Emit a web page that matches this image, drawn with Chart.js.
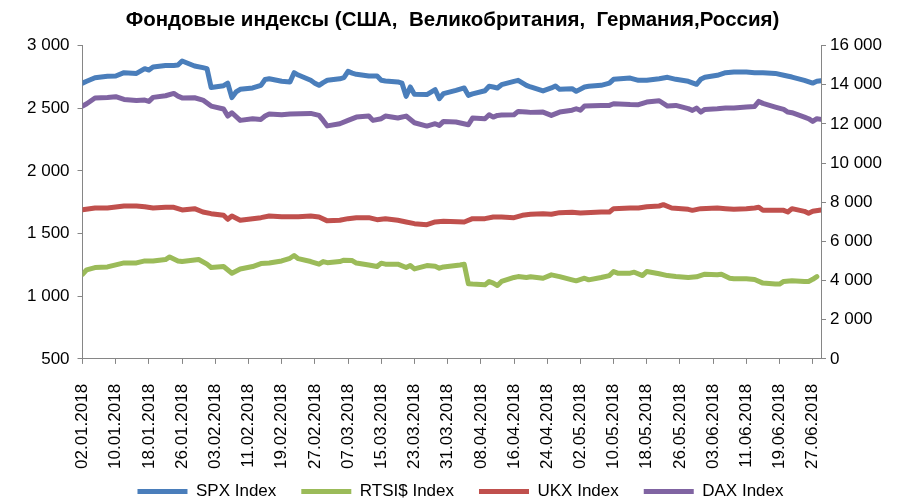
<!DOCTYPE html>
<html>
<head>
<meta charset="utf-8">
<script src="https://cdn.jsdelivr.net/npm/chart.js@4"></script>
<style>
  body { margin: 0; background: #fff; }
  #wrap { width: 901px; height: 499px; }
</style>
</head>
<body>
<div id="wrap"><canvas id="indexChart" width="901" height="499"></canvas></div>
<script>
// x = days since 02.01.2018 (trading days)
const tickLabels = ['02.01.2018', '10.01.2018', '18.01.2018', '26.01.2018', '03.02.2018', '11.02.2018',
    '19.02.2018', '27.02.2018', '07.03.2018', '15.03.2018', '23.03.2018', '31.03.2018', '08.04.2018',
    '16.04.2018', '24.04.2018', '02.05.2018', '10.05.2018', '18.05.2018', '26.05.2018', '03.06.2018',
    '11.06.2018', '19.06.2018', '27.06.2018'];

// SPX Index (left axis)
const spxDays = [0,1,3,6,8,10,13,15,16,17,20,22,23,24,27,29,30,31,34,35,36,37,38,41,43,44,45,48,50,51,
    52,55,56,57,58,59,62,63,64,65,66,69,71,72,73,76,77,78,79,80,83,85,86,87,90,92,93,94,97,98,
    99,100,101,104,105,107,108,111,113,114,115,118,119,121,122,125,127,128,132,134,136,139,141,143,146,148,149,150,153,155,
    157,160,162,164,167,169,171,174,176,177,178];
const spxValues = [2701,2715,2744,2755,2757,2784,2778,2816,2805,2830,2842,2842,2845,2877,2837,2824,2816,2665,2680,2700,
    2585,2630,2651,2662,2683,2730,2736,2715,2710,2784,2765,2723,2700,2683,2705,2723,2735,2745,2794,2780,
    2771,2757,2757,2723,2718,2710,2700,2595,2670,2611,2609,2648,2577,2617,2643,2662,2603,2615,2640,2675,
    2670,2662,2688,2715,2723,2683,2670,2638,2662,2678,2651,2656,2635,2670,2675,2683,2700,2731,2741,2723,
    2723,2736,2747,2731,2715,2691,2731,2747,2763,2784,2789,2789,2784,2784,2778,2763,2749,2723,2701,2715,2720];

// RTSI$ Index (left axis)
const rtsDays = [0,1,3,6,8,10,13,15,17,20,21,23,24,28,30,31,34,36,38,41,43,45,48,50,51,52,55,57,58,59,
    62,63,65,66,69,71,72,73,76,78,79,80,83,85,86,87,91,92,93,94,97,98,99,100,101,104,105,107,108,111,
    113,115,118,119,121,122,125,127,128,129,132,133,135,136,139,141,143,146,148,150,153,154,156,157,160,162,164,167,168,169,
    171,174,175,176,177];
const rtsValues = [1176,1211,1229,1234,1250,1266,1266,1282,1282,1293,1314,1282,1277,1293,1256,1229,1237,1184,1218,1237,
    1261,1266,1282,1303,1325,1300,1277,1256,1277,1268,1277,1288,1285,1265,1250,1237,1264,1256,1256,1229,
    1245,1218,1245,1240,1224,1234,1250,1256,1100,1097,1091,1118,1105,1086,1118,1150,1157,1150,1155,1144,
    1171,1157,1131,1123,1144,1131,1150,1165,1197,1184,1184,1192,1165,1197,1179,1165,1157,1150,1155,1176,
    1171,1176,1144,1140,1139,1134,1105,1097,1097,1118,1123,1118,1118,1135,1157];

// UKX Index (right axis)
const ukxDays = [0,3,6,8,10,13,15,17,20,22,24,27,29,31,34,35,36,38,41,43,45,48,50,52,55,57,59,62,64,66,
    69,71,73,76,78,80,83,85,87,92,94,97,99,101,104,106,108,111,113,115,118,120,125,127,128,132,134,136,139,140,
    142,146,147,149,153,155,157,160,162,163,164,167,169,170,171,174,175,176,178];
const ukxValues = [7622,7707,7707,7758,7809,7809,7775,7707,7741,7741,7605,7673,7503,7418,7333,7129,7299,7078,7163,7214,
    7299,7265,7265,7265,7299,7248,7050,7078,7163,7214,7214,7112,7163,7078,6993,6908,6857,6993,7027,6993,
    7163,7163,7248,7248,7214,7333,7384,7418,7384,7469,7490,7452,7503,7503,7673,7707,7707,7775,7809,7877,
    7707,7639,7588,7673,7707,7673,7639,7673,7707,7741,7588,7588,7588,7503,7673,7537,7435,7537,7605];

// DAX Index (right axis)
const daxDays = [0,1,3,6,8,10,13,15,16,17,20,22,23,24,27,29,31,34,35,36,38,41,43,44,45,48,50,55,57,58,
    59,62,64,66,69,70,72,73,76,78,80,83,85,86,87,90,93,94,97,98,99,100,101,104,105,107,108,111,113,115,
    118,119,120,121,125,127,128,132,134,136,139,141,143,146,147,148,149,150,153,155,157,160,162,163,164,167,169,170,171,174,
    175,176,177,178];
const daxValues = [12912,13031,13321,13355,13389,13252,13201,13219,13150,13355,13440,13559,13420,13330,13338,13219,12912,12760,12402,12572,
    12181,12266,12232,12402,12504,12470,12504,12538,12436,12181,11900,12011,12181,12351,12402,12181,12266,12402,12300,12402,
    12062,11892,12011,11926,12130,12096,11960,12300,12266,12470,12351,12436,12450,12470,12640,12606,12590,12606,12436,12606,
    12700,12776,12700,12912,12946,12946,13031,12990,12980,13116,13184,12912,12946,12780,12691,12810,12606,12742,12776,12810,
    12810,12861,12895,13150,13050,12861,12742,12606,12572,12350,12266,12130,12266,12232];

const FONT = 'Liberation Sans';
const AXIS_GRAY = '#868686';
const TICK_FONT = { family: FONT, size: 17 };

function toPoints(days, values) {
    return days.map((d, i) => ({ x: d, y: values[i] }));
}

// "3000" -> "3 000"
function thousands(v) {
    return String(v).replace(/\B(?=(\d{3})+(?!\d))/g, ' ');
}

function lineSet(label, days, values, color, axis) {
    return {
        label: label,
        data: toPoints(days, values),
        yAxisID: axis,
        borderColor: color,
        backgroundColor: color,
        borderWidth: 5,
        pointRadius: 0,
        tension: 0,
        borderJoinStyle: 'round',
        borderCapStyle: 'round'
    };
}

// legend sits closer to the date labels than chart.js would put it
const moveLegend = {
    id: 'moveLegend',
    afterLayout(chart) {
        chart.legend.top -= 31;
        chart.legend.bottom -= 31;
        chart.legend.left += 8;
        chart.legend.right += 8;
    }
};

const ctx = document.getElementById('indexChart').getContext('2d');

new Chart(ctx, {
    type: 'line',
    data: {
        datasets: [
            lineSet('SPX Index', spxDays, spxValues, '#4a7ebb', 'y'),
            lineSet('RTSI$ Index', rtsDays, rtsValues, '#9bbb59', 'y'),
            lineSet('UKX Index', ukxDays, ukxValues, '#c0504d', 'y1'),
            lineSet('DAX Index', daxDays, daxValues, '#8064a2', 'y1')
        ]
    },
    plugins: [moveLegend],
    options: {
        responsive: false,
        animation: false,
        layout: { padding: { left: 19, right: 15, top: 0, bottom: -42 } },
        plugins: {
            title: {
                display: true,
                text: 'Фондовые индексы (США,  Великобритания,  Германия,Россия)',
                color: '#000',
                font: { family: FONT, size: 20.5, weight: 'bold' },
                padding: { top: 8, bottom: 13 }
            },
            legend: {
                position: 'bottom',
                labels: {
                    usePointStyle: true,
                    pointStyle: 'line',
                    pointStyleWidth: 50,
                    color: '#000',
                    font: { family: FONT, size: 17 },
                    padding: 25
                }
            },
            tooltip: { enabled: false }
        },
        scales: {
            x: {
                type: 'linear',
                min: 0,
                max: 178,
                afterBuildTicks: function(scale) {
                    scale.ticks = tickLabels.map((t, i) => ({ value: i * 8 }));
                },
                ticks: {
                    autoSkip: false,
                    maxRotation: 90,
                    minRotation: 90,
                    padding: 20,
                    color: '#000',
                    font: TICK_FONT,
                    callback: function(value) {
                        return tickLabels[value / 8] || '';
                    }
                },
                grid: { drawOnChartArea: false, color: AXIS_GRAY, tickLength: 5 },
                border: { color: AXIS_GRAY }
            },
            y: {
                position: 'left',
                min: 500,
                max: 3000,
                ticks: {
                    stepSize: 500,
                    padding: 8,
                    color: '#000',
                    font: TICK_FONT,
                    callback: thousands
                },
                grid: { drawOnChartArea: false, color: AXIS_GRAY, tickLength: 5 },
                border: { color: AXIS_GRAY }
            },
            y1: {
                position: 'right',
                min: 0,
                max: 16000,
                ticks: {
                    stepSize: 2000,
                    padding: 4,
                    color: '#000',
                    font: TICK_FONT,
                    callback: thousands
                },
                grid: { drawOnChartArea: false, color: AXIS_GRAY, tickLength: 5 },
                border: { color: AXIS_GRAY }
            }
        }
    }
});
</script>
</body>
</html>
